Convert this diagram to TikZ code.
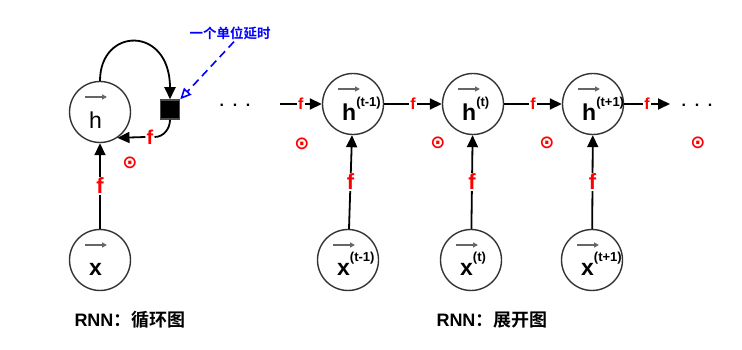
\documentclass[tikz,border=0pt]{standalone}
\usepackage{fontspec}
\setmainfont{Liberation Sans}
\newfontfamily\cjk{Noto Sans CJK SC}[BoldFont={Noto Sans CJK SC Bold}]
\newfontfamily\symf{DejaVu Sans}
\usepackage{xcolor}
\usepackage{tikz}
\usetikzlibrary{positioning,arrows.meta,calc}

\definecolor{fred}{RGB}{255,0,0}
\definecolor{dblue}{RGB}{0,0,255}
\newcommand{\cellsym}[2]{{\fontsize{23}{23}\selectfont #1}\raisebox{14pt}{\fontsize{13}{13}\selectfont\bfseries #2}}

\begin{document}
\begin{tikzpicture}[x=1pt, y=1pt,
  cell/.style={circle, draw=black!80, line width=1.4pt, minimum size=61pt, inner sep=0pt},
  sym/.style={anchor=base west, inner sep=0pt, font=\bfseries},
  delay/.style={rectangle, fill=black, draw=black!70, line width=1.5pt, minimum size=19pt, inner sep=0pt},
  arr/.style={-{Triangle[length=12pt,width=11pt]}, line width=1.8pt},
  vecarr/.style={-{Triangle[length=5pt,width=5pt]}, draw=black!60, line width=1.4pt},
  fh/.style={font=\fontsize{16}{16}\selectfont\bfseries, text=fred, fill=white, inner sep=1.5pt},
  fv/.style={font=\fontsize{22}{22}\selectfont\bfseries, text=fred, fill=white, inner sep=1pt},
  odot/.style={font=\symf\bfseries\fontsize{18}{18}\selectfont, text=fred, inner sep=0pt},
  dotrow/.style={font=\fontsize{16}{16}\selectfont\bfseries, inner sep=0pt},
  note/.style={font=\cjk\bfseries\fontsize{13.5}{14}\selectfont, text=dblue, inner sep=2pt},
  captext/.style={font=\bfseries\fontsize{18}{18}\selectfont, inner sep=0pt},
  dasharr/.style={-{Triangle[open,length=11pt,width=10pt]}, draw=dblue, line width=1.6pt, dash pattern=on 8pt off 5pt}]
\fill[white] (0,0) rectangle (742,-350);
\useasboundingbox (0,0) rectangle (742,-350);
% folded network
\node[cell] (hL) at (100,-112) {};
\node[cell] (xL) at (100,-260) {};
\node[delay] (dly) at (170,-109.5) {};
% unfolded network
\node[cell] (h1) at (353,-104) {};
\node[cell] (h2) at (473,-104) {};
\node[cell] (h3) at (593,-104) {};
\node[cell] (x1) at (348,-260) {};
\node[cell] (x2) at (471,-260) {};
\node[cell] (x3) at (592,-260) {};
\foreach \n/\c/\s/\d in {hL/\mdseries h//17, xL/x//15, h1/h/(t-1)/17, h2/h/(t)/17, h3/h/(t+1)/17,
                          x1/x/(t-1)/15, x2/x/(t)/15, x3/x/(t+1)/15} {
  \node[sym] (\n-t) at ([xshift=-11pt,yshift=-\d pt]\n.center) {\cellsym{\c}{\s}};
  \draw[vecarr] ([xshift=-15pt,yshift=15pt]\n.center) -- ++(22pt,0);
}
% connectors of the loop
\draw[arr] (xL) -- node[fv] {f} (hL);
\draw[arr] (hL.north) .. controls +(0,54) and +(0,74) .. (dly.north);
\node[fv, font=\fontsize{20}{20}\selectfont\bfseries] (fb) at (150,-137) {f};
\draw[line width=1.8pt] (dly.south) to[out=-90, in=0] (fb.east);
\draw[arr] (fb.west) -- (hL.-56);
\node[note] (dnote) at (230,-33) {一个单位延时};
\draw[dasharr] ([xshift=4pt]dnote.south) -- (dly.north east);
\node[odot] (oL) at (130,-163) {⊙};
\node[dotrow] (dL) at (235,-105) {.\hspace{8.6pt}.\hspace{8.6pt}.};
% connectors of the chain
\coordinate (in0) at (280,-104);
\coordinate (out3) at (670,-104);
\draw[arr] (in0) -- node[fh] {f} (h1);
\draw[arr] (h1) -- node[fh] {f} (h2);
\draw[arr] (h2) -- node[fh] {f} (h3);
\draw[arr] (h3) -- node[fh] {f} (out3);
\draw[arr] (x1) -- node[fv] {f} (h1);
\draw[arr] (x2) -- node[fv] {f} (h2);
\draw[arr] (x3) -- node[fv] {f} (h3);
\node[dotrow] (dR) at (697,-105) {.\hspace{8.6pt}.\hspace{8.6pt}.};
\node[odot] (o1) at (302,-144) {⊙};
\node[odot] (o2) at (438,-143) {⊙};
\node[odot] (o3) at (547,-143) {⊙};
\node[odot] (o4) at (698,-143) {⊙};
% captions
\node[captext] (capL) at (130,-320) {RNN{\cjk ：循环图}};
\node[captext] (capR) at (492,-320) {RNN{\cjk ：展开图}};
\end{tikzpicture}
\end{document}
